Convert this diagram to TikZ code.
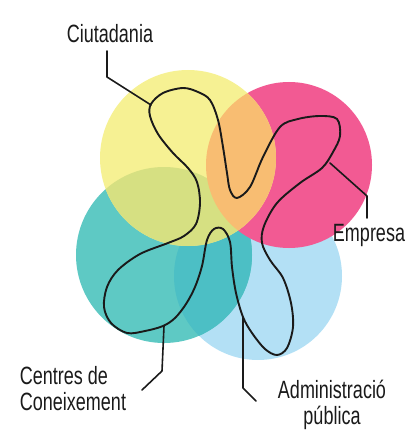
\documentclass[tikz,border=0pt]{standalone}
\usepackage{fontspec}
\setmainfont{Liberation Sans}
\definecolor{cyel}{HTML}{F6F193}
\definecolor{cpink}{HTML}{F25A93}
\definecolor{cteal}{HTML}{5EC9C4}
\definecolor{cblue}{HTML}{B3E0F5}
\definecolor{corange}{HTML}{F8BD72}
\definecolor{colive}{HTML}{D6E082}
\definecolor{cdteal}{HTML}{4CBFC5}
\definecolor{ink}{HTML}{1A1A1A}
\tikzset{
  lbl/.style={font=\fontsize{25}{26}\selectfont, text=ink, inner sep=0pt, xscale=0.72, transform shape, align=center},
  lead/.style={draw=ink, line width=1.6pt, line join=round, line cap=round},
  loop/.style={draw=ink, line width=1.9pt, line join=round}
}
\begin{document}
\begin{tikzpicture}[x=1pt,y=-1pt]
\useasboundingbox (0,0) rectangle (409,441);
\def\Y{(188,158) circle (88)}
\def\P{(289,165) circle (83)}
\def\T{(164,255) circle (88)}
\def\B{(258,276) circle (84)}
% circles
\fill[cblue] \B;
\fill[cteal] \T;
\begin{scope}\clip \B; \fill[cdteal] \T; \end{scope}
\fill[cpink] \P;
\fill[cyel] \Y;
\begin{scope}\clip \Y;
  \fill[colive] \T;
  \fill[corange] \P;
\end{scope}
% loop curve
\draw[loop] plot[smooth cycle, tension=0.55] coordinates {
 (151,104) (163,93) (183,88) (198,92) (210,100) (218,120) (223,147) (227,173) (230,190) (237,198)
 (250,187) (263,157) (280,127) (298,119) (320,116) (337,119) (340,136) (333,152)
 (322,168) (300,183) (277,203) (264,226) (262,243) (270,260) (283,278) (291,303) (293,327)
 (287,348) (277,355) (265,349) (252,333) (243,317) (236,293) (232,267) (230,242) (223,229)
 (214,229) (207,240) (202,266) (195,287) (186,304) (175,318) (163,326) (145,331) (127,333)
 (111,323) (104,307) (107,287) (118,270) (140,254) (168,243) (184,236) (196,224) (200,203)
 (197,182) (188,168) (173,153) (158,134) (150,116)};
% attachment points on the curve
\coordinate (aC) at (151,105);
\coordinate (aE) at (330,163);
\coordinate (aK) at (164,326);
\coordinate (aA) at (243,317);
% labels
\node[lbl] (tC) at (110,34) {Ciutadania};
\node[lbl] (tE) at (369,235) {Empresa};
\node[lbl, align=left] (tK) at (73,389) {Centres de\\Coneixement};
\node[lbl] (tA) at (332,405) {Administració\\pública};
% leaders
\draw[lead] (aC) -- (107,77) -- (107,51);
\draw[lead] (aE) -- (367,196) -- (367,218);
\draw[lead] (aK) -- (162,371) -- (142,390);
\draw[lead] (aA) -- (243,388) -- (256,401);
\end{tikzpicture}
\end{document}
